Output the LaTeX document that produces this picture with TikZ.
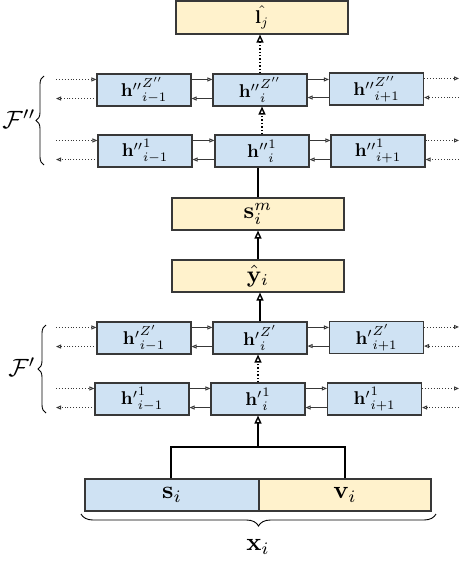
\documentclass[tikz,border=0pt]{standalone}
\usetikzlibrary{arrows.meta,decorations.pathreplacing}
\definecolor{bbl}{HTML}{CFE2F3}
\definecolor{yel}{HTML}{FFF2CC}
\definecolor{edge}{HTML}{383838}
\newcommand{\hb}[1]{\scalebox{1.85}{$#1$}}
\newcommand{\yb}[1]{\scalebox{2.35}{$#1$}}
\newcommand{\bb}[1]{\scalebox{2.5}{$#1$}}
\begin{document}
\begin{tikzpicture}[x=1pt,y=-1pt,
  hbox/.style={draw=edge,line width=1.1pt,fill=bbl,minimum width=94pt,minimum height=32pt,inner sep=0pt},
  ybox/.style={draw=edge,line width=1.1pt,fill=yel,minimum width=172pt,minimum height=32pt,inner sep=0pt},
  varr/.style={line width=1.4pt,-{Triangle[open,width=7pt,length=8pt]}},
  harr/.style={line width=0.9pt,draw=edge,-{Triangle[open,width=4pt,length=5pt]}},
  dharr/.style={line width=0.9pt,draw=edge,dotted,-{Triangle[open,width=4pt,length=5pt]}},
  brc/.style={decorate,line width=0.9pt,decoration={brace,amplitude=8pt}}
]
\useasboundingbox (0,0) rectangle (462,564);

% top box
\node[ybox,minimum height=33pt] (l) at (262,17.5) {\hb{\hat{\mathbf{l}_j}}};

% row Z''
\node[hbox] (a1) at (144,90) {\hb{{\mathbf{h}''}^{Z''}_{i-1}}};
\node[hbox] (a2) at (260,90) {\hb{{\mathbf{h}''}^{Z''}_{i}}};
\node[hbox] (a3) at (376.5,89) {\hb{{\mathbf{h}''}^{Z''}_{i+1}}};
% row 1''
\node[hbox] (b1) at (145,151) {\hb{{\mathbf{h}''}^{1}_{i-1}}};
\node[hbox] (b2) at (262,151) {\hb{{\mathbf{h}''}^{1}_{i}}};
\node[hbox] (b3) at (378,151) {\hb{{\mathbf{h}''}^{1}_{i+1}}};

\node[ybox] (sm) at (258,214) {\yb{\mathbf{s}^m_i}};
\node[ybox] (y) at (258,276) {\yb{\hat{\mathbf{y}}_i}};

% row Z'
\node[hbox] (c1) at (144,338) {\hb{{\mathbf{h}'}^{Z'}_{i-1}}};
\node[hbox] (c2) at (260,338) {\hb{{\mathbf{h}'}^{Z'}_{i}}};
\node[hbox] (c3) at (376.5,337.5) {\hb{{\mathbf{h}'}^{Z'}_{i+1}}};
% row 1'
\node[hbox] (d1) at (142,399) {\hb{{\mathbf{h}'}^{1}_{i-1}}};
\node[hbox] (d2) at (258,399) {\hb{{\mathbf{h}'}^{1}_{i}}};
\node[hbox] (d3) at (374.5,399) {\hb{{\mathbf{h}'}^{1}_{i+1}}};

% bottom
\node[hbox,fill=bbl,minimum width=174pt] (s) at (172,495) {\bb{\mathbf{s}_i}};
\node[hbox,fill=yel,minimum width=172pt] (v) at (345,495) {\bb{\mathbf{v}_i}};

% horizontal connections
\foreach \p/\q in {a1/a2,a2/a3,b1/b2,b2/b3,c1/c2,c2/c3,d1/d2,d2/d3}{
  \draw[harr] ([yshift=-6pt]\p.north east) -- ([yshift=-6pt]\p.north east -| \q.west);
  \draw[harr] ([yshift=8pt]\q.south west) -- ([yshift=8pt]\q.south west -| \p.east);
}
% external dotted
\foreach \r in {a,b,c,d}{
  \coordinate (\r L1) at ([yshift=-6pt]\r1.north west);
  \coordinate (\r L2) at ([yshift=8pt]\r1.south west);
  \coordinate (\r R1) at ([yshift=-6pt]\r3.north east);
  \coordinate (\r R2) at ([yshift=8pt]\r3.south east);
  \coordinate (\r LO1) at (56,0 |- \r L1);
  \coordinate (\r LO2) at (56,0 |- \r L2);
  \coordinate (\r RO1) at (459,0 |- \r R1);
  \coordinate (\r RO2) at (459,0 |- \r R2);
  \draw[dharr] (\r LO1) -- (\r L1);
  \draw[dharr] (\r L2) -- (\r LO2);
  \draw[dharr] (\r R1) -- (\r RO1);
  \draw[dharr] (\r RO2) -- (\r R2);
}

% vertical connections
\draw[varr,dotted] (a2.north) -- (a2.north |- l.south);
\draw[varr,dotted] (b2.north) -- (b2.north |- a2.south);
\draw[line width=1.4pt] (sm.north) -- (sm.north |- b2.south);
\draw[varr] (y.north) -- (sm.south);
\draw[varr] (c2.north) -- (c2.north |- y.south);
\draw[varr,dotted] (d2.north) -- (d2.north |- c2.south);

% merge tree
\coordinate (m) at (258,447);
\draw[line width=1.4pt] ([xshift=-1pt]s.north) |- (m) -| (v.north);
\draw[varr] (m) -- (d2.south);

% braces
\draw[brc] (44,165) -- (44,76);
\node (f2) at (19,119) {\bb{\mathcal{F}''}};
\draw[brc] (46,413) -- (46,325);
\node (f1) at (22,367) {\bb{\mathcal{F}'}};
\draw[decorate,line width=0.9pt,decoration={brace,amplitude=12pt}] (436,514) -- (81,514);
\node (x) at (258,547) {\bb{\mathbf{x}_i}};
\end{tikzpicture}
\end{document}
